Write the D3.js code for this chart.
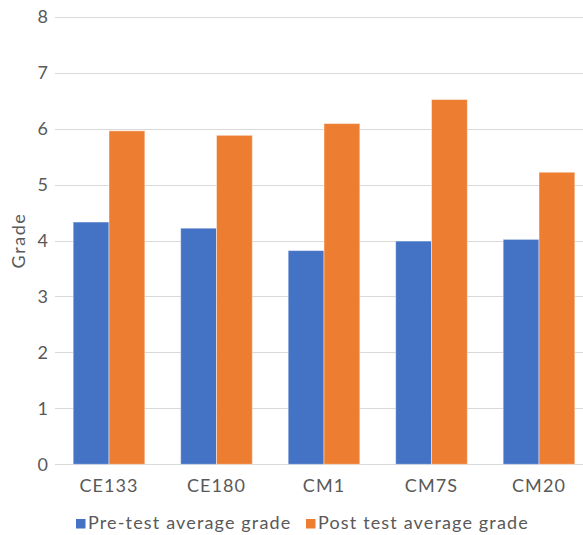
<!DOCTYPE html>
<html>
<head>
<meta charset="utf-8">
<script src="https://cdn.jsdelivr.net/npm/d3@7/dist/d3.min.js"></script>
<style>
  html, body { margin: 0; padding: 0; background: #fff; }
  svg { display: block; font-family: Lato, "Open Sans", sans-serif; }
</style>
</head>
<body>
<svg id="chart" width="583" height="535"></svg>
<script>
// Course codes along the x axis
const categories = ["CE133", "CE180", "CM1", "CM7S", "CM20"];
// Series names shown in the legend
const seriesNames = ["Pre-test average grade", "Post test average grade"];
// Average grades per course
const preTest = [4.33, 4.22, 3.82, 3.99, 4.02];
const postTest = [5.96, 5.88, 6.09, 6.52, 5.22];
// Y axis ticks
const yTicks = [0, 1, 2, 3, 4, 5, 6, 7, 8];

const colors = ["#4472C4", "#ED7D31"];
const textColor = "#595959";

const svg = d3.select("#chart");
const W = 583, H = 535;

const plot = { left: 55.25, right: 592.75, top: 16.7, bottom: 464.3 };

const x0 = d3.scaleBand()
  .domain(categories)
  .range([plot.left, plot.right])
  .padding(0);

const x1 = d3.scaleBand()
  .domain(seriesNames)
  .range([0, x0.bandwidth()])
  .paddingInner(0)
  .paddingOuter(0.5);

const y = d3.scaleLinear()
  .domain([0, 8])
  .range([plot.bottom, plot.top]);

// Horizontal gridlines
svg.append("g")
  .selectAll("line")
  .data(yTicks)
  .join("line")
  .attr("x1", 55)
  .attr("x2", W)
  .attr("y1", d => Math.round(y(d)) + 0.5)
  .attr("y2", d => Math.round(y(d)) + 0.5)
  .attr("stroke", "#D9D9D9")
  .attr("stroke-width", 1);

// Y axis tick labels
const yAxis = d3.axisLeft(y).tickValues(yTicks).tickSize(0).tickPadding(0);
const yg = svg.append("g")
  .attr("transform", "translate(48,0)")
  .call(yAxis);
yg.select(".domain").remove();
yg.selectAll("text")
  .attr("fill", textColor)
  .attr("font-size", 18)
  .attr("font-family", "Lato, sans-serif");

// Y axis title
svg.append("text")
  .attr("transform", `translate(24.5,${(plot.top + plot.bottom) / 2}) rotate(-90)`)
  .attr("text-anchor", "middle")
  .attr("fill", textColor)
  .attr("font-size", 18)
  .attr("letter-spacing", 1.6)
  .text("Grade");

// Bars
const rows = categories.map((c, i) => ({ cat: c, values: [preTest[i], postTest[i]] }));
const groups = svg.append("g")
  .selectAll("g")
  .data(rows)
  .join("g")
  .attr("transform", d => `translate(${x0(d.cat)},0)`);

groups.selectAll("rect")
  .data(d => d.values.map((v, k) => ({ name: seriesNames[k], value: v, k })))
  .join("rect")
  .attr("x", d => x1(d.name))
  .attr("width", x1.bandwidth())
  .attr("y", d => y(d.value))
  .attr("height", d => y(0) - y(d.value))
  .attr("fill", d => colors[d.k])
  .attr("stroke", "#fff")
  .attr("stroke-opacity", 0.45)
  .attr("stroke-width", 1);

// X axis category labels
const xAxis = d3.axisBottom(x0).tickSize(0).tickPadding(0);
const xg = svg.append("g")
  .attr("transform", "translate(0,479)")
  .call(xAxis);
xg.select(".domain").remove();
xg.selectAll("text")
  .attr("fill", textColor)
  .attr("font-size", 18)
  .attr("letter-spacing", 1.1)
  .attr("font-family", "Lato, sans-serif");

// Legend
const legendX = [76, 306];
const legend = svg.append("g")
  .selectAll("g")
  .data(seriesNames)
  .join("g")
  .attr("transform", (d, i) => `translate(${legendX[i]},0)`);
legend.append("rect")
  .attr("x", 0)
  .attr("y", 519)
  .attr("width", 9.5)
  .attr("height", 9.5)
  .attr("fill", (d, i) => colors[i]);
legend.append("text")
  .attr("x", 12)
  .attr("y", 529)
  .attr("fill", textColor)
  .attr("font-size", 18)
  .attr("letter-spacing", 1.15)
  .text(d => d);
</script>
</body>
</html>
